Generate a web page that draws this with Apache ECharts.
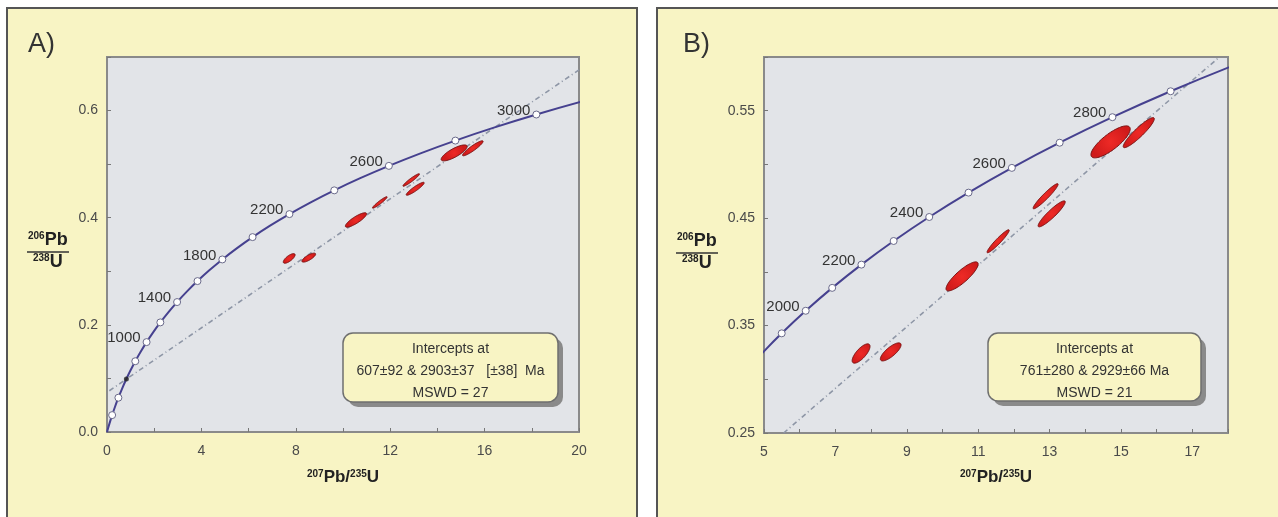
<!DOCTYPE html>
<html><head><meta charset="utf-8">
<script src="https://cdn.jsdelivr.net/npm/echarts@6/dist/echarts.min.js"></script>
<style>html,body{margin:0;padding:0;background:#fff}#c{width:1278px;height:517px}</style>
</head><body><div id="c"></div>
<script>
// ---- Concordia reference points (age in Ma, 207Pb/235U, 206Pb/238U) ----
const concAges = [0,100,200,300,400,500,600,700,800,900,1000,1100,1200,1300,1400,1500,1600,1700,1800,1900,2000,2100,2200,2300,2400,2500,2600,2700,2800,2900,3000,3100,3200];
const concX = [0,0.1035,0.2177,0.3437,0.4828,0.6363,0.8056,0.9925,1.1987,1.4263,1.6774,1.9546,2.2603,2.5977,2.9701,3.3810,3.8344,4.3347,4.8869,5.4961,6.1685,6.9104,7.7291,8.6326,9.6295,10.7301,11.9443,13.2836,14.7613,16.3920,18.1929,20.1790,22.3713];
const concY = [0,0.01563,0.03151,0.04764,0.06402,0.08065,0.09754,0.11470,0.13210,0.14983,0.16780,0.18606,0.20460,0.22343,0.24256,0.26199,0.28172,0.30176,0.32210,0.34277,0.36377,0.38509,0.40674,0.42873,0.45107,0.47375,0.49678,0.52020,0.54397,0.56811,0.59262,0.61751,0.64279];
const markerAgesA = [200,400,800,1000,1200,1400,1600,1800,2000,2200,2400,2600,2800,3000];
const labelAgesA = [1000,1400,1800,2200,2600,3000];
const markerAgesB = [1900,2000,2100,2200,2300,2400,2500,2600,2700,2800,2900];
const labelAgesB = [2000,2200,2400,2600,2800];
const lowerInterceptA = [0.82, 0.099];
// ---- Discordia line end points ----
const discordiaA = [[0.1,0.077],[20,0.676]];
const discordiaB = [[5.55,0.25],[17.76,0.6]];
// ---- Error ellipses (centre, half-extent x, half-extent y, correlation) ----
const ellCx  = [7.72, 8.55, 10.55, 11.56, 12.89, 13.06, 14.71, 15.50];
const ellCy  = [0.3240, 0.3255, 0.3958, 0.4285, 0.4704, 0.4540, 0.5210, 0.5296];
const ellSx  = [0.25, 0.29, 0.45, 0.31, 0.35, 0.38, 0.55, 0.435];
const ellSy  = [0.0090, 0.0084, 0.0135, 0.0107, 0.0117, 0.0121, 0.0149, 0.0140];
const ellRho = [0.74, 0.78, 0.85, 0.95, 0.95, 0.92, 0.80, 0.92];
// ---- Text ----
const boxTextA = ['Intercepts at', '607\u00b192 & 2903\u00b137   [\u00b138]  Ma', 'MSWD = 27'];
const boxTextB = ['Intercepts at', '761\u00b1280 & 2929\u00b166 Ma', 'MSWD = 21'];

const FONT = '"Liberation Sans", Arial, sans-serif';
const chart = echarts.init(document.getElementById('c'), null, {renderer:'canvas'});
const mctx = document.createElement('canvas').getContext('2d');
function tw(t, size, bold){ mctx.font = (bold?'bold ':'') + size + 'px "Liberation Sans"'; return mctx.measureText(t).width; }

function supTitle(x, baseY, parts, big, small){
  const els = []; let cx = x;
  parts.forEach(p=>{
    const sz = p[1] ? small : big;
    els.push({type:'text', z:50, style:{text:p[0], x:cx, y: p[1] ? baseY - big*0.42 : baseY, fontSize:sz, fontWeight:'bold', fontFamily:FONT, fill:'#222', verticalAlign:'bottom'}});
    cx += tw(p[0], sz, true);
  });
  return els;
}
function fracTitle(x, lineY){
  const top = supTitle(x+1, lineY-3, [['206',true],['Pb',false]], 18, 10);
  const bot = supTitle(x+6, lineY+19, [['238',true],['U',false]], 18, 10);
  return top.concat(bot).concat([{type:'line', z:50, shape:{x1:x, y1:lineY, x2:x+42, y2:lineY}, style:{stroke:'#333', lineWidth:1.6}}]);
}
function xTitle(cx, baseY){
  const parts = [['207',true],['Pb/',false],['235',true],['U',false]];
  let w = 0; parts.forEach(p=>{ w += tw(p[0], p[1]?10:17, true); });
  return supTitle(cx - w/2, baseY, parts, 17, 10);
}
function textBox(x, y, w, h, lines){
  const els = [
    {type:'rect', z:60, shape:{x:x+5, y:y+5, width:w, height:h, r:10}, style:{fill:'#8a8a8a'}},
    {type:'rect', z:61, shape:{x:x, y:y, width:w, height:h, r:10}, style:{fill:'#f8f4c4', stroke:'#6f6f6f', lineWidth:1.5}}
  ];
  lines.forEach((t,i)=>{
    els.push({type:'text', z:62, style:{text:t, x:x+w/2, y:y+16+i*22, align:'center', verticalAlign:'middle', fontSize:14, fontFamily:FONT, fill:'#333'}});
  });
  return els;
}

function concData(){ return concX.map((x,i)=>[x, concY[i]]); }
function markerData(ages, labels){
  return concAges.map((a,i)=>({a, v:[concX[i], concY[i]]})).filter(o=>ages.includes(o.a)).map(o=>({
    value:o.v,
    label: labels.includes(o.a) ? {show:true, formatter:String(o.a)} : {show:false}
  }));
}
const ellData = ellCx.map((x,i)=>[x, ellCy[i], ellSx[i], ellSy[i], ellRho[i]]);
function ellipseItem(params, api){
  const cx=api.value(0), cy=api.value(1), sx=api.value(2), sy=api.value(3), r=api.value(4);
  const k=Math.sqrt(1-r*r), pts=[];
  for(let i=0;i<80;i++){ const t=i/80*2*Math.PI; pts.push(api.coord([cx+sx*Math.cos(t), cy+sy*(r*Math.cos(t)+k*Math.sin(t))])); }
  return {type:'polygon', shape:{points:pts}, style:{
    fill:{type:'radial', x:0.5, y:0.5, r:0.6, colorStops:[{offset:0,color:'#ee2a26'},{offset:1,color:'#cf1a1a'}]},
    stroke:'#7a1212', lineWidth:1}};
}

function axisCommon(){
  return {
    axisLine:{show:true, onZero:false, lineStyle:{color:'#8a8a8a', width:2}},
    axisTick:{show:true, inside:true, length:4, lineStyle:{color:'#777', width:1}},
    splitLine:{show:false},
  };
}
const lblStyle = {color:'#4a4a4a', fontSize:14, fontFamily:FONT};

const grids = [
  {left:107, top:57, width:472, height:375, show:true, backgroundColor:'#e2e4e8', borderColor:'#8a8a8a', borderWidth:2},
  {left:764, top:57, width:464, height:376, show:true, backgroundColor:'#e2e4e8', borderColor:'#8a8a8a', borderWidth:2}
];
const xAxes = [
  Object.assign(axisCommon(), {type:'value', gridIndex:0, min:0, max:20, interval:2,
    axisLabel:Object.assign({margin:12, formatter:v=> (Math.round(v)%4===0 ? String(Math.round(v)) : '')}, lblStyle)}),
  Object.assign(axisCommon(), {type:'value', gridIndex:1, min:5, max:18, interval:1,
    axisLabel:Object.assign({margin:12, formatter:v=> (Math.round(v)%2===1 ? String(Math.round(v)) : '')}, lblStyle)})
];
const yAxes = [
  Object.assign(axisCommon(), {type:'value', gridIndex:0, min:0, max:0.7, interval:0.1,
    axisLabel:Object.assign({margin:9, formatter:v=> (Math.round(v*10)%2===0 ? v.toFixed(1) : '')}, lblStyle)}),
  Object.assign(axisCommon(), {type:'value', gridIndex:1, min:0.25, max:0.6, interval:0.05,
    axisLabel:Object.assign({margin:9, formatter:v=> (Math.round((v-0.25)/0.05)%2===0 ? v.toFixed(2) : '')}, lblStyle)})
];

const series = [];
[0,1].forEach(g=>{
  series.push({type:'line', xAxisIndex:g, yAxisIndex:g, data:(g===0?discordiaA:discordiaB), showSymbol:false, silent:true, z:3,
    lineStyle:{color:'#8e96a6', width:1.6, type:[5,3,1,3]}});
  series.push({type:'custom', xAxisIndex:g, yAxisIndex:g, renderItem:ellipseItem, data:ellData, z:4,
    dimensions:['x','y','sx','sy','rho'], encode:{x:0, y:1}, clip:true});
  series.push({type:'line', xAxisIndex:g, yAxisIndex:g, data:concData(), showSymbol:false, smooth:0.3, clip:true, silent:true, z:5,
    lineStyle:{color:'#46418f', width:2}});
  series.push({type:'scatter', xAxisIndex:g, yAxisIndex:g, z:6, symbol:'circle', symbolSize:7,
    data: g===0 ? markerData(markerAgesA, labelAgesA) : markerData(markerAgesB, labelAgesB),
    itemStyle:{color:'#ffffff', borderColor:'#6a6a8a', borderWidth:1, opacity:1},
    label:{position:'left', distance:2, offset:[0,-4], fontSize:15, fontFamily:FONT, color:'#333'}});
});
series.push({type:'scatter', xAxisIndex:0, yAxisIndex:0, z:7, symbol:'circle', symbolSize:5, data:[lowerInterceptA],
  itemStyle:{color:'#222'}});

let graphics = [
  {type:'rect', z:-10, shape:{x:7, y:8, width:630, height:530}, style:{fill:'#f8f4c4', stroke:'#555', lineWidth:2}},
  {type:'rect', z:-10, shape:{x:657, y:8, width:640, height:530}, style:{fill:'#f8f4c4', stroke:'#555', lineWidth:2}},
  {type:'text', z:50, style:{text:'A)', x:28, y:45, verticalAlign:'middle', fontSize:27, fontFamily:FONT, fill:'#333'}},
  {type:'text', z:50, style:{text:'B)', x:683, y:45, verticalAlign:'middle', fontSize:27, fontFamily:FONT, fill:'#333'}}
];
graphics = graphics.concat(fracTitle(27, 252), fracTitle(676, 253), xTitle(343, 486), xTitle(996, 486),
  textBox(343, 333, 215, 69, boxTextA), textBox(988, 333, 213, 68, boxTextB));

chart.setOption({
  animation:false,
  backgroundColor:'#ffffff',
  grid:grids, xAxis:xAxes, yAxis:yAxes, series:series,
  graphic:{elements:graphics}
});
</script></body></html>
